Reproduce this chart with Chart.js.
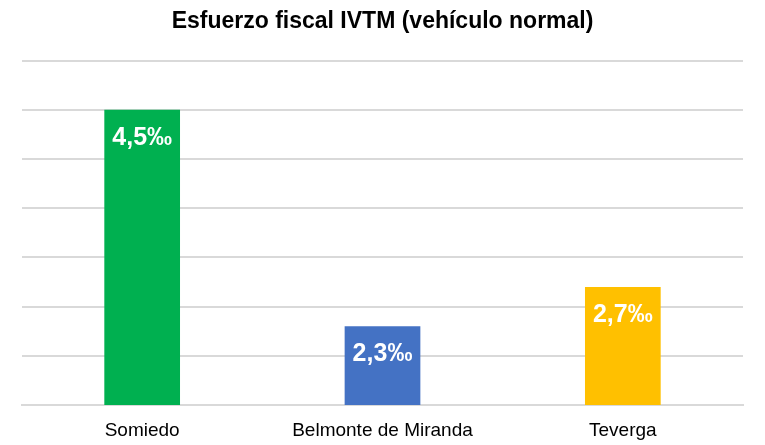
<!DOCTYPE html>
<html>
<head>
<meta charset="utf-8">
<script src="https://cdn.jsdelivr.net/npm/chart.js@4"></script>
<style>
  body { margin: 0; background: #fff; }
  #wrap { width: 765px; height: 445px; }
</style>
</head>
<body>
<div id="wrap"><canvas id="ivtmchart"></canvas></div>
<script>
/* data */
var categories = ['Somiedo', 'Belmonte de Miranda', 'Teverga'];
var values = [4.5, 2.3, 2.7];
var barColors = ['#00b050', '#4472c4', '#ffc000'];

/* labels inside bars, e.g. 4,5‰ */
var barLabels = {
  id: 'barLabels',
  afterDatasetsDraw: function(chart) {
    var ctx = chart.ctx;
    var meta = chart.getDatasetMeta(0);
    ctx.save();
    ctx.fillStyle = '#ffffff';
    ctx.font = 'bold 25px "Liberation Sans", Arial, sans-serif';
    ctx.textAlign = 'center';
    ctx.textBaseline = 'middle';
    meta.data.forEach(function(bar, i) {
      var txt = values[i].toFixed(1).replace('.', ',') + '‰';
      ctx.fillText(txt, bar.x, bar.y + 28);
    });
    ctx.restore();
  }
};

var ctx = document.getElementById('ivtmchart');
var ivtmchart = new Chart(ctx, {
  type: 'bar',
  data: {
    labels: categories,
    datasets: [{
      data: values,
      backgroundColor: barColors,
      borderWidth: 0,
      categoryPercentage: 1,
      barPercentage: 0.315
    }]
  },
  options: {
    responsive: true,
    maintainAspectRatio: false,
    animation: false,
    layout: { padding: { left: 22, right: 22, top: 0, bottom: 0 } },
    plugins: {
      legend: { display: false },
      tooltip: { enabled: false },
      title: {
        display: true,
        text: 'Esfuerzo fiscal IVTM (vehículo normal)',
        color: '#000000',
        font: { family: '"Liberation Sans", Arial, sans-serif', size: 23, weight: 'bold' },
        padding: { top: 8, bottom: 25 }
      }
    },
    scales: {
      x: {
        grid: { display: false, drawTicks: false },
        border: { display: true, color: '#d9d9d9', width: 2 },
        ticks: {
          color: '#000000',
          padding: 14,
          font: { family: '"Liberation Sans", Arial, sans-serif', size: 19 }
        },
        afterFit: function(scale) { scale.height = 40; }
      },
      y: {
        min: 1.5,
        max: 5,
        ticks: { display: false, stepSize: 0.5 },
        grid: { color: '#d9d9d9', lineWidth: 2, drawTicks: false },
        border: { display: false }
      }
    }
  },
  plugins: [barLabels]
});
</script>
</body>
</html>
